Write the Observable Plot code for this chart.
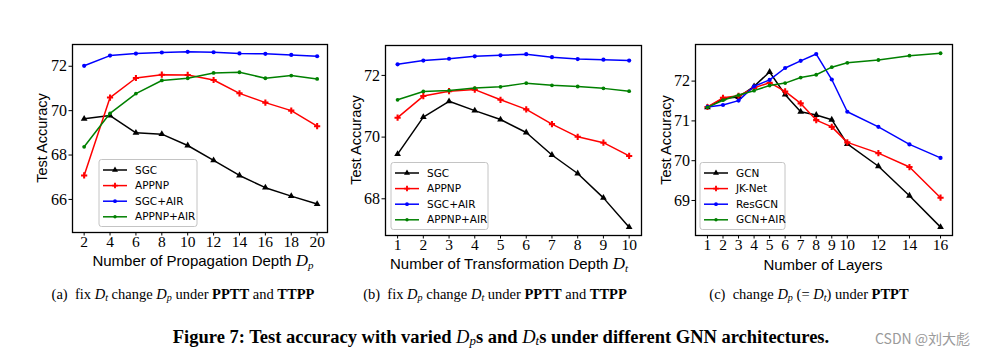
<!DOCTYPE html>
<html>
<head>
<meta charset="utf-8">
<script src="https://cdn.jsdelivr.net/npm/d3@7"></script>
<script src="https://cdn.jsdelivr.net/npm/@observablehq/plot@0.6"></script>
<style>
  html, body { margin: 0; padding: 0; background: #fff; }
  #fig { position: relative; width: 989px; height: 359px; overflow: hidden; background: #fff; }
  .panel { position: absolute; top: 0; }
  .lab { position: absolute; font-family: "Liberation Sans", Arial, sans-serif; font-size: 15px; color: #000; white-space: nowrap; line-height: 1; }
  .ylab { transform: translate(-50%, -50%) rotate(-90deg); font-size: 14.5px; }
  .xlab { transform: translate(-50%, -50%); }
  .m { font-family: "Liberation Serif", serif; font-style: italic; font-size: 17px; line-height: 1; }
  .m sub { font-size: 11px; vertical-align: -3px; line-height: 1; }
  .cap { position: absolute; font-family: "Liberation Serif", serif; font-size: 14.5px; white-space: nowrap; transform: translate(-50%, -50%); line-height: 1; }
  .cap i sub, .title i sub { font-size: 0.7em; vertical-align: -2px; line-height: 1; }
  .title { position: absolute; font-family: "Liberation Serif", serif; font-size: 18.5px; font-weight: bold; white-space: nowrap; transform: translate(-50%, -50%); line-height: 1; }
  .title i { font-weight: normal; }
  .wm { position: absolute; font-family: "Noto Sans CJK SC", sans-serif; font-size: 14px; color: #9a9a9a; white-space: nowrap; line-height: 1; }
</style>
</head>
<body>
<div id="fig"></div>
<script>
// ---------- Data ----------
// Panel (a): varying propagation depth Dp
const depthP = [2, 4, 6, 8, 10, 12, 14, 16, 18, 20];
const a_SGC      = [69.63, 69.78, 69.00, 68.94, 68.43, 67.76, 67.08, 66.53, 66.15, 65.79];
const a_APPNP    = [67.08, 70.59, 71.47, 71.62, 71.61, 71.38, 70.78, 70.36, 70.00, 69.30];
const a_SGCAIR   = [72.02, 72.48, 72.57, 72.62, 72.65, 72.63, 72.58, 72.56, 72.51, 72.45];
const a_APPNPAIR = [68.37, 69.88, 70.77, 71.36, 71.46, 71.70, 71.73, 71.46, 71.58, 71.43];
const a_xTicks = [2, 4, 6, 8, 10, 12, 14, 16, 18, 20];
const a_yTicks = [66, 68, 70, 72];

// Panel (b): varying transformation depth Dt
const depthT = [1, 2, 3, 4, 5, 6, 7, 8, 9, 10];
const b_SGC      = [69.45, 70.65, 71.16, 70.86, 70.57, 70.15, 69.42, 68.82, 68.03, 67.08];
const b_APPNP    = [70.63, 71.33, 71.49, 71.54, 71.21, 70.90, 70.42, 70.01, 69.82, 69.39];
const b_SGCAIR   = [72.36, 72.48, 72.54, 72.62, 72.65, 72.69, 72.59, 72.53, 72.51, 72.48];
const b_APPNPAIR = [71.21, 71.48, 71.51, 71.59, 71.63, 71.75, 71.68, 71.64, 71.58, 71.49];
const b_xTicks = [1, 2, 3, 4, 5, 6, 7, 8, 9, 10];
const b_yTicks = [68, 70, 72];

// Panel (c): number of layers
const layers = [1, 2, 3, 4, 5, 6, 7, 8, 9, 10, 12, 14, 16];
const c_GCN    = [71.34, 71.56, 71.60, 71.87, 72.23, 71.66, 71.23, 71.15, 71.03, 70.42, 69.86, 69.12, 68.33];
const c_JKNet  = [71.35, 71.58, 71.63, 71.83, 71.96, 71.74, 71.44, 71.02, 70.85, 70.46, 70.19, 69.84, 69.07];
const c_ResGCN = [71.35, 71.40, 71.51, 71.87, 72.03, 72.33, 72.51, 72.68, 72.04, 71.23, 70.85, 70.41, 70.07];
const c_GCNAIR = [71.34, 71.52, 71.65, 71.76, 71.89, 71.95, 72.09, 72.16, 72.35, 72.46, 72.53, 72.64, 72.70];
const c_xTicks = [1, 2, 3, 4, 5, 6, 7, 8, 9, 10, 12, 14, 16];
const c_yTicks = [69, 70, 71, 72];

// series styles: [name, color, symbol, r]
const styleA = [
  ["SGC", "black", "triangle", 2.5],
  ["APPNP", "#ff0000", "cross", 2.6],
  ["SGC+AIR", "#0000ff", "circle", 2.1],
  ["APPNP+AIR", "#008000", "circle", 1.9]
];
const styleC = [
  ["GCN", "black", "triangle", 2.5],
  ["JK-Net", "#ff0000", "cross", 2.6],
  ["ResGCN", "#0000ff", "circle", 2.1],
  ["GCN+AIR", "#008000", "circle", 1.9]
];

function rows(xs, seriesList, styles) {
  const out = [];
  seriesList.forEach((vals, i) => {
    vals.forEach((v, j) => out.push({x: xs[j], y: vals[j], s: styles[i][0]}));
  });
  return out;
}

const tickFont = "'Liberation Serif', 'Times New Roman', serif";

function makePanel(cfg) {
  const data = rows(cfg.xs, cfg.series, cfg.styles);
  const marks = [];
  cfg.styles.forEach(([name, color, sym, r]) => {
    const d = data.filter(e => e.s === name);
    marks.push(Plot.line(d, {x: "x", y: "y", stroke: color, strokeWidth: 1.5}));
    marks.push(Plot.dot(d, {x: "x", y: "y", fill: color, stroke: "none", symbol: () => sym, r}));
  });
  const plot = Plot.plot({
    width: cfg.width,
    height: cfg.height,
    marginLeft: cfg.ml, marginRight: cfg.mr, marginTop: cfg.mt, marginBottom: cfg.mb,
    style: {fontFamily: tickFont, fontSize: "16px", color: "black", background: "white"},
    x: {domain: cfg.xDomain, ticks: cfg.xTicks, label: null},
    y: {domain: cfg.yDomain, ticks: cfg.yTicks, label: null},
    symbol: {type: "identity"},
    marks: [
      Plot.axisX({ticks: cfg.xTicks, tickFormat: d => String(d), tickSize: 3.5, tickPadding: 0, label: null, fontSize: 15.5, fontFamily: tickFont}),
      Plot.axisY({ticks: cfg.yTicks, tickFormat: d => String(d), tickSize: 3.5, tickPadding: 2, label: null, fontSize: 16, fontFamily: tickFont}),
      ...marks,
      Plot.frame({stroke: "black", strokeWidth: 1.3})
    ]
  });
  // Legend
  const svg = d3.select(plot);
  const lg = svg.append("g").attr("transform", `translate(${cfg.lx},${cfg.ly})`).attr("text-anchor", "start");
  lg.append("rect").attr("x", 0).attr("y", 0).attr("width", cfg.lw).attr("height", 67)
    .attr("rx", 2.5).attr("fill", "white").attr("fill-opacity", 0.85)
    .attr("stroke", "#c4c4c4").attr("stroke-width", 1);
  cfg.styles.forEach(([name, color, sym, r], i) => {
    const yy = 10.5 + i * 15.6;
    lg.append("line").attr("x1", 4).attr("x2", 28).attr("y1", yy).attr("y2", yy)
      .attr("stroke", color).attr("stroke-width", 1.5);
    const symType = {triangle: d3.symbolTriangle, cross: d3.symbolCross, circle: d3.symbolCircle}[sym];
    lg.append("path").attr("d", d3.symbol(symType, Math.PI * r * r * 0.8)()).attr("transform", `translate(16,${yy})`).attr("fill", color);
    lg.append("text").attr("x", 36).attr("y", yy).attr("dy", "0.35em").attr("text-anchor", "start")
      .attr("font-family", "'DejaVu Sans', sans-serif").attr("font-size", 10.5).attr("fill", "black").text(name);
  });
  plot.classList.add("panel");
  plot.style.left = cfg.left + "px";
  return plot;
}

const fig = document.getElementById("fig");

fig.appendChild(makePanel({
  left: 0, width: 335, height: 270, ml: 72, mr: 8, mt: 44, mb: 38,
  xs: depthP, series: [a_SGC, a_APPNP, a_SGCAIR, a_APPNPAIR], styles: styleA,
  xDomain: [1.1, 20.8], yDomain: [64.51, 72.98], xTicks: a_xTicks, yTicks: a_yTicks,
  lx: 99, ly: 159.5, lw: 98
}));
fig.appendChild(makePanel({
  left: 335, width: 315, height: 270, ml: 50, mr: 9, mt: 45, mb: 35,
  xs: depthT, series: [b_SGC, b_APPNP, b_SGCAIR, b_APPNPAIR], styles: styleA,
  xDomain: [0.53, 10.48], yDomain: [66.81, 72.97], xTicks: b_xTicks, yTicks: b_yTicks,
  lx: 56, ly: 162.5, lw: 97
}));
fig.appendChild(makePanel({
  left: 650, width: 339, height: 270, ml: 45, mr: 37, mt: 44, mb: 35,
  xs: layers, series: [c_GCN, c_JKNet, c_ResGCN, c_GCNAIR], styles: styleC,
  xDomain: [0.23, 16.77], yDomain: [68.12, 72.92], xTicks: c_xTicks, yTicks: c_yTicks,
  lx: 50, ly: 162.5, lw: 85
}));

// Axis titles, captions and figure title
function addHTML(cls, html, x, y) {
  const d = document.createElement("div");
  d.className = cls;
  d.innerHTML = html;
  d.style.left = x + "px";
  d.style.top = y + "px";
  fig.appendChild(d);
}
addHTML("lab ylab", "Test Accuracy", 42, 138);
addHTML("lab ylab", "Test Accuracy", 356, 140);
addHTML("lab ylab", "Test Accuracy", 666, 140);
addHTML("lab xlab", 'Number of Propagation Depth <span class="m">D<sub>p</sub></span>', 203, 261);
addHTML("lab xlab", 'Number of Transformation Depth <span class="m">D<sub>t</sub></span>', 509, 264);
addHTML("lab xlab", 'Number of Layers', 823, 264);

addHTML("cap", '(a)&nbsp; fix <i>D<sub>t</sub></i> change <i>D<sub>p</sub></i> under <b>PPTT</b> and <b>TTPP</b>', 183, 295);
addHTML("cap", '(b)&nbsp; fix <i>D<sub>p</sub></i> change <i>D<sub>t</sub></i> under <b>PPTT</b> and <b>TTPP</b>', 495, 295);
addHTML("cap", '(c)&nbsp; change <i>D<sub>p</sub></i> (= <i>D<sub>t</sub></i>) under <b>PTPT</b>', 809, 295);
addHTML("title", 'Figure 7: Test accuracy with varied <i>D<sub>p</sub></i>s and <i>D<sub>t</sub></i>s under different GNN architectures.', 501, 338);
addHTML("wm", 'CSDN @刘大彪', 875, 331);
</script>
</body>
</html>
